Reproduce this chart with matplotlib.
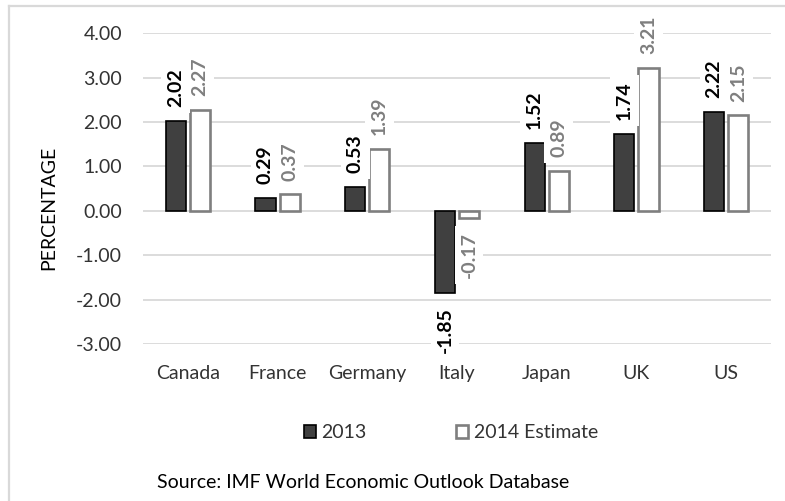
import matplotlib
matplotlib.use("Agg")
import matplotlib.pyplot as plt
from matplotlib.lines import Line2D
from matplotlib.patches import Patch
import numpy as np

plt.rcParams['font.family'] = ['Lato', 'DejaVu Sans']

countries = ["Canada", "France", "Germany", "Italy", "Japan", "UK", "US"]
growth_2013 = [2.02, 0.29, 0.53, -1.85, 1.52, 1.74, 2.22]
growth_2014 = [2.27, 0.37, 1.39, -0.17, 0.89, 3.21, 2.15]
yticks = [-3, -2, -1, 0, 1, 2, 3, 4]

W, H = 785, 501
fig = plt.figure(figsize=(W / 100, H / 100), dpi=100)
fig.patch.set_facecolor("white")

# plot area in pixel coordinates (from top-left)
left_px, right_px, top_px, bottom_px = 143, 771, 33.3, 344
ax = fig.add_axes([left_px / W, 1 - bottom_px / H,
                   (right_px - left_px) / W, (bottom_px - top_px) / H])

dark = "#404040"
gray = "#7f7f7f"
text_col = "#333333"
fs = 14

x = np.arange(len(countries))
bw = 0.225
off = 0.135

ax.bar(x - off, growth_2013, width=bw, color=dark, edgecolor="black",
       linewidth=1.2, zorder=3)
ax.bar(x + off, growth_2014, width=bw, color="white", edgecolor=gray,
       linewidth=1.9, zorder=3)

box = dict(boxstyle="square,pad=0.3", facecolor="white", edgecolor="none")

def label(xpos, val, color):
    sign = 1 if val >= 0 else -1
    ax.annotate(f"{val:.2f}", xy=(xpos, val), xytext=(0, sign * 10),
                textcoords="offset points", rotation=90, ha="center",
                va="bottom" if val >= 0 else "top", fontsize=fs,
                fontweight="bold", color=color, bbox=box, zorder=5,
                annotation_clip=False)

for i in range(len(countries)):
    label(x[i] - off, growth_2013[i], "black")
    label(x[i] + off, growth_2014[i], gray)

ax.set_xlim(-0.5, len(countries) - 0.5)
ax.set_ylim(-3, 4)
ax.set_yticks(yticks)
ax.set_yticklabels([f"{v:.2f}" for v in yticks])
ax.set_xticks(x)
ax.set_xticklabels(countries)
ax.tick_params(axis="y", length=0, pad=15, labelsize=fs, labelcolor=text_col)
ax.tick_params(axis="x", length=0, pad=15, labelsize=fs, labelcolor=text_col)
ax.grid(axis="y", color="#d9d9d9", linewidth=1.3, zorder=0)
ax.set_axisbelow(True)
for s in ax.spines.values():
    s.set_visible(False)

fig.text(48.5 / W, 1 - 208 / H, "PERCENTAGE", rotation=90, ha="center",
         va="center", fontsize=fs, color="black")

handles = [Patch(facecolor=dark, edgecolor="black", linewidth=1.2),
           Patch(facecolor="white", edgecolor=gray, linewidth=1.9)]
fig.legend(handles, ["2013", "2014 Estimate"], loc="center",
           bbox_to_anchor=(451 / W, 1 - 433 / H), ncol=2, frameon=False,
           fontsize=fs, handlelength=0.6, handleheight=0.6,
           handletextpad=0.3, columnspacing=4.6, labelcolor=text_col)

fig.text(157 / W, 1 - 483 / H, "Source: IMF World Economic Outlook Database",
         ha="left", va="center", fontsize=fs, color="black")

# outer chart frame (left and top edges)
fig.add_artist(Line2D([9 / W, 9 / W], [0, 1 - 6 / H], color="#d9d9d9",
                      linewidth=1.6, transform=fig.transFigure))
fig.add_artist(Line2D([9 / W, 1], [1 - 6 / H, 1 - 6 / H], color="#d9d9d9",
                      linewidth=1.6, transform=fig.transFigure))

fig.savefig("out.png", dpi=100, facecolor="white")
